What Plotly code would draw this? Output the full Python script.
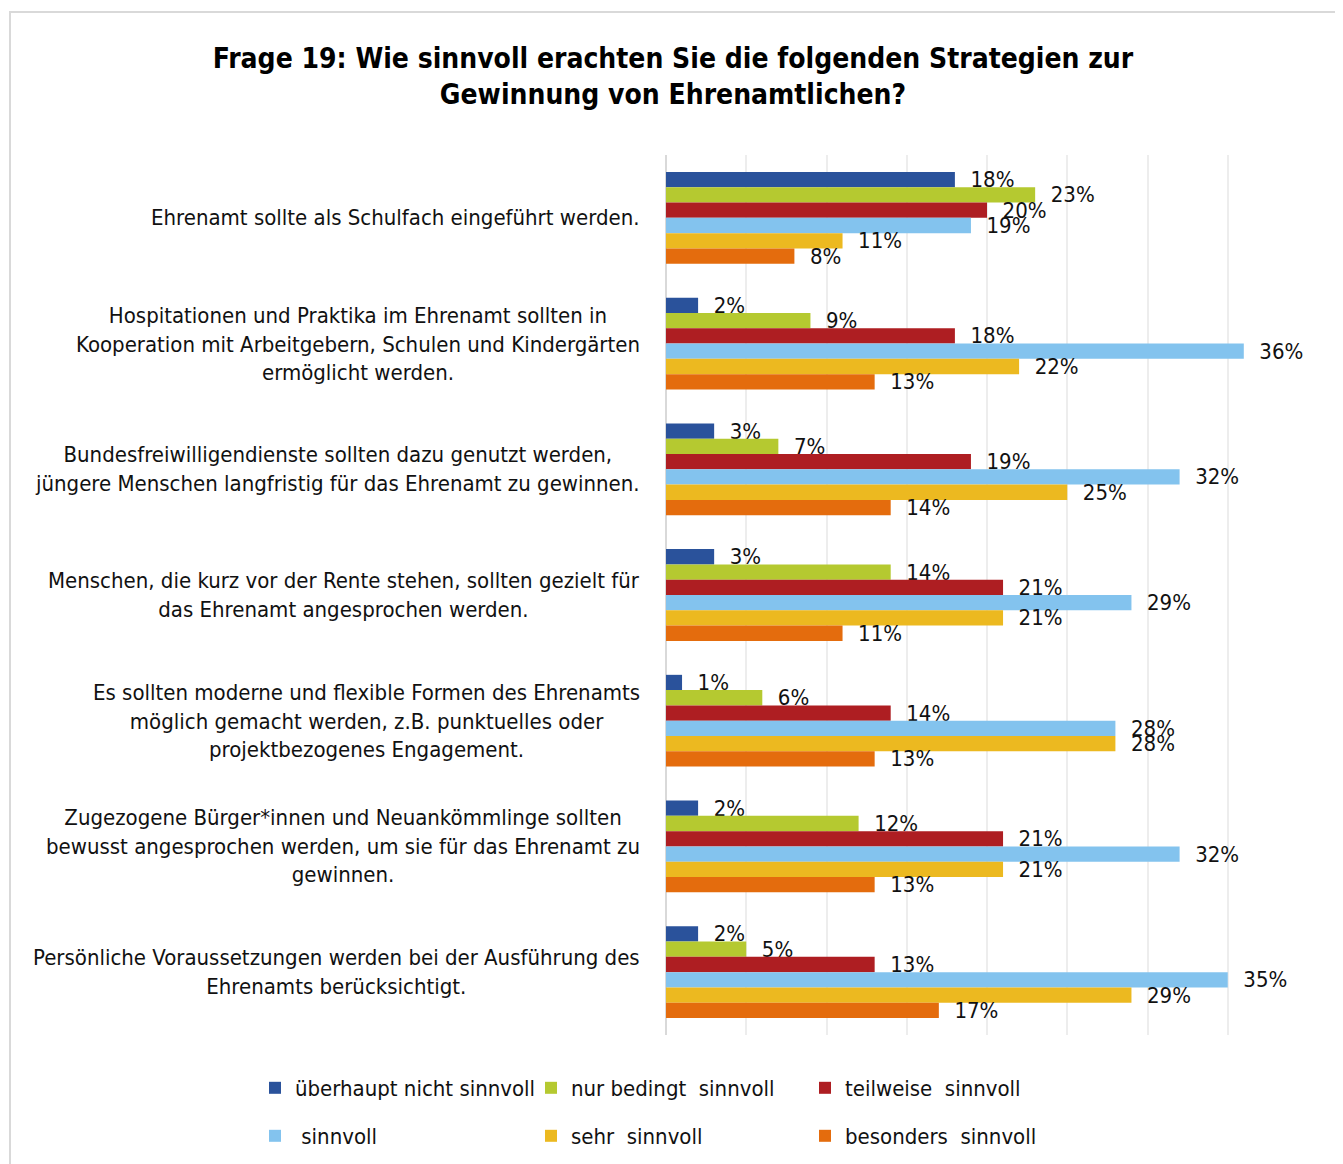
import plotly.graph_objects as go

categories = [
    "Ehrenamt sollte als Schulfach eingeführt werden.",
    "Hospitationen und Praktika im Ehrenamt sollten in<br>Kooperation mit Arbeitgebern, Schulen und Kindergärten<br>ermöglicht werden.",
    "Bundesfreiwilligendienste sollten dazu genutzt werden,<br>jüngere Menschen langfristig für das Ehrenamt zu gewinnen.",
    "Menschen, die kurz vor der Rente stehen, sollten gezielt für<br>das Ehrenamt angesprochen werden.",
    "Es sollten moderne und flexible Formen des Ehrenamts<br>möglich gemacht werden, z.B. punktuelles oder<br>projektbezogenes Engagement.",
    "Zugezogene Bürger*innen und Neuankömmlinge sollten<br>bewusst angesprochen werden, um sie für das Ehrenamt zu<br>gewinnen.",
    "Persönliche Voraussetzungen werden bei der Ausführung des<br>Ehrenamts berücksichtigt.",
]

series_names = [
    "überhaupt nicht sinnvoll",
    "nur bedingt  sinnvoll",
    "teilweise  sinnvoll",
    " sinnvoll",
    "sehr  sinnvoll",
    "besonders  sinnvoll",
]

ueberhaupt_nicht = [18, 2, 3, 3, 1, 2, 2]
nur_bedingt = [23, 9, 7, 14, 6, 12, 5]
teilweise = [20, 18, 19, 21, 14, 21, 13]
sinnvoll = [19, 36, 32, 29, 28, 32, 35]
sehr = [11, 22, 25, 21, 28, 21, 29]
besonders = [8, 13, 14, 11, 13, 13, 17]

series_values = [ueberhaupt_nicht, nur_bedingt, teilweise, sinnvoll, sehr, besonders]
colors = ["#2A529B", "#B5C930", "#AE1E22", "#83C3EE", "#ECB920", "#E46C0D"]

tick_vals = [0, 5, 10, 15, 20, 25, 30, 35, 40]

FONT = "DejaVu Sans Condensed, Liberation Sans Narrow, sans-serif"

W, H = 1335, 1156  # page body has an 8px margin
L, R, T, B = 658, 35, 147, 129
PW, PH = W - L - R, H - T - B

legend_names = ["legend", "legend2", "legend3", "legend4", "legend5", "legend6"]
legend_cols_x = [247, 523, 797]
legend_rows_top = [1059, 1107]

fig = go.Figure()
for i, (name, vals, col) in enumerate(zip(series_names, series_values, colors)):
    fig.add_trace(go.Bar(
        y=categories, x=vals, name=name, orientation="h",
        marker=dict(color=col, line=dict(width=0)),
        texttemplate="\u00a0\u00a0%{x}%", textposition="outside",
        textfont=dict(size=22, color="#111111", family=FONT),
        constraintext="none", cliponaxis=False,
        legend=legend_names[i],
    ))

for c in categories:
    fig.add_annotation(
        x=0, y=c, xref="x", yref="y", text=c, showarrow=False,
        xanchor="right", yanchor="middle", align="center", xshift=-24,
        font=dict(size=22, color="#111111", family=FONT),
    )

# outer border (pixel positions converted to paper fractions)
fig.add_shape(type="rect", xref="paper", yref="paper",
              x0=(2 - L) / PW, x1=(1330 - L) / PW,
              y0=-(B + 20) / PH, y1=1 + (T - 4) / PH,
              line=dict(color="#D9D9D9", width=2), fillcolor="rgba(0,0,0,0)", layer="below")

legend_layouts = {}
for i, ln in enumerate(legend_names):
    r, cidx = divmod(i, 3)
    legend_layouts[ln] = dict(
        orientation="v", xref="container", yref="container",
        x=legend_cols_x[cidx] / W, y=1 - legend_rows_top[r] / H,
        xanchor="left", yanchor="top",
        font=dict(size=22, family=FONT, color="#111111"),
        bgcolor="rgba(0,0,0,0)",
    )

fig.update_layout(
    width=W, height=H,
    margin=dict(l=L, r=R, t=T, b=B, autoexpand=False),
    paper_bgcolor="white", plot_bgcolor="white",
    barmode="group", bargap=0.27, bargroupgap=0,
    font=dict(family=FONT, size=22, color="#111111"),
    title=dict(
        text="<b>Frage 19: Wie sinnvoll erachten Sie die folgenden Strategien zur<br>Gewinnung von Ehrenamtlichen?</b>",
        x=665 / W, xref="container", xanchor="center",
        y=1 - 60 / H, yref="container", yanchor="top",
        font=dict(size=28, color="#000000", family=FONT),
        automargin=False,
    ),
    xaxis=dict(range=[0, 40], tickvals=tick_vals, showticklabels=False,
               showgrid=True, gridcolor="#EDEDED", gridwidth=2,
               zeroline=True, zerolinecolor="#D9D9D9", zerolinewidth=2,
               showline=False, fixedrange=True, automargin=False),
    yaxis=dict(autorange="reversed", showticklabels=False, showgrid=False,
               showline=False, ticks="", automargin=False),
    showlegend=True,
    **legend_layouts,
)

fig.write_html("out.html")
